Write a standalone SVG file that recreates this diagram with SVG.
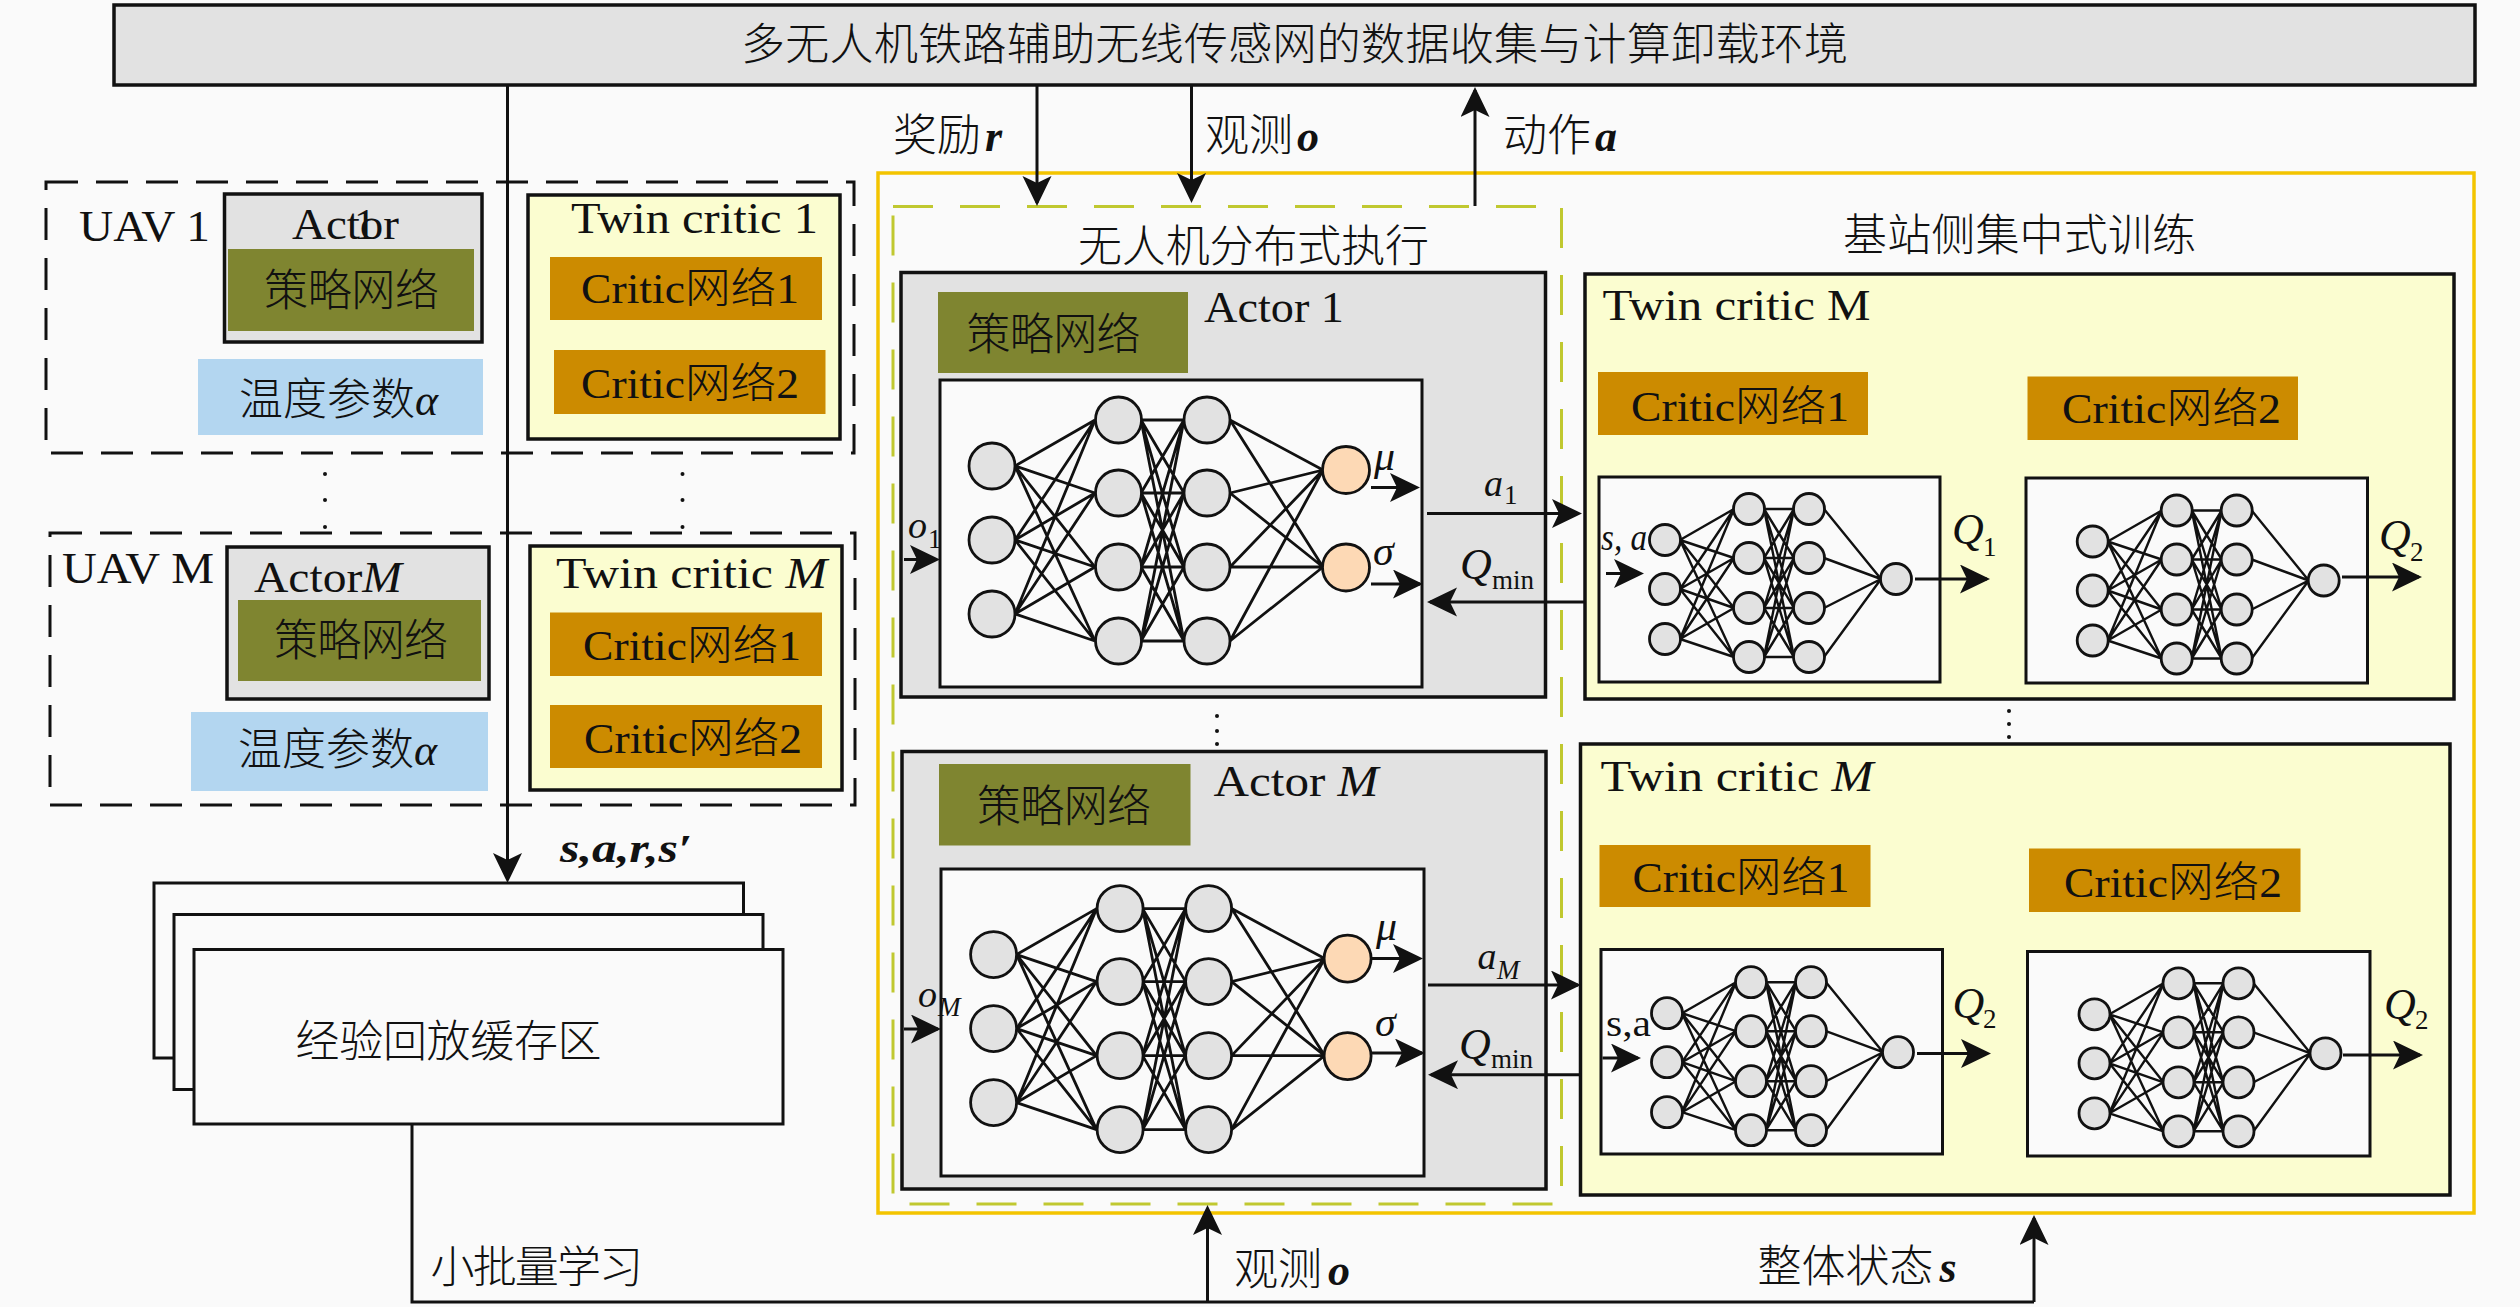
<svg xmlns="http://www.w3.org/2000/svg" xmlns:xlink="http://www.w3.org/1999/xlink" width="2520" height="1307" viewBox="0 0 2520 1307">
<style>
text{font-family:"Liberation Serif","Noto Sans CJK SC",serif;font-size:44px;fill:#111}
.cjk{font-family:"Noto Sans CJK SC","Liberation Serif",sans-serif;font-weight:300}
.c42{font-size:42px}
.i{font-style:italic}
.bi{font-style:italic;font-weight:bold;font-family:"Liberation Serif",serif}
.sub{font-size:27px}
.gray{fill:#e2e2e2;stroke:#111;stroke-width:3.5}
.cream{fill:#fbfdd0;stroke:#111;stroke-width:3.5}
.green{fill:#7f8530}
.orange{fill:#cc8b00}
.blue{fill:#b3d6f0}
.white{fill:#fafafa;stroke:#111;stroke-width:3}
.dash{fill:none;stroke:#111;stroke-width:3;stroke-dasharray:32 18}
.edge{fill:none;stroke:#111;stroke-width:2.8}
.edge2{fill:none;stroke:#111;stroke-width:2.4}
.n{fill:#e2e2e2;stroke:#111;stroke-width:2.8}
.o{fill:#fdd9b5;stroke:#111;stroke-width:2.8}
.arrow{fill:none;stroke:#111;stroke-width:3;marker-end:url(#ah)}
.line{fill:none;stroke:#111;stroke-width:3}
.dot{fill:#111}
</style>
<defs>
<marker id="ah" markerUnits="userSpaceOnUse" markerWidth="32" markerHeight="30" refX="27" refY="14.5" orient="auto">
<path d="M30,14.5 L0,0 L7,14.5 L0,29 Z" fill="#111"/>
</marker>
<g id="bignet">
<path class="edge" d="M1015 466L1095 420M1015 466L1095 493M1015 466L1095 567M1015 466L1095 641M1015 540L1095 420M1015 540L1095 493M1015 540L1095 567M1015 540L1095 641M1015 614L1095 420M1015 614L1095 493M1015 614L1095 567M1015 614L1095 641"/>
<path class="edge" d="M1141 420L1184 420M1141 420L1184 493M1141 420L1184 567M1141 420L1184 641M1141 493L1184 420M1141 493L1184 493M1141 493L1184 567M1141 493L1184 641M1141 567L1184 420M1141 567L1184 493M1141 567L1184 567M1141 567L1184 641M1141 641L1184 420M1141 641L1184 493M1141 641L1184 567M1141 641L1184 641"/>
<path class="edge" d="M1230 420L1323 470M1230 420L1323 567M1230 493L1323 470M1230 493L1323 567M1230 567L1323 470M1230 567L1323 567M1230 641L1323 470M1230 641L1323 567"/>
<circle class="n" cx="992" cy="466" r="23"/><circle class="n" cx="992" cy="540" r="23"/><circle class="n" cx="992" cy="614" r="23"/>
<circle class="n" cx="1118.5" cy="420" r="23"/><circle class="n" cx="1118.5" cy="493" r="23"/><circle class="n" cx="1118.5" cy="567" r="23"/><circle class="n" cx="1118.5" cy="641" r="23"/>
<circle class="n" cx="1207" cy="420" r="23"/><circle class="n" cx="1207" cy="493" r="23"/><circle class="n" cx="1207" cy="567" r="23"/><circle class="n" cx="1207" cy="641" r="23"/>
<circle class="o" cx="1346" cy="470" r="23.5"/><circle class="o" cx="1346" cy="567.5" r="23.5"/>
</g>
<g id="smallnet">
<path class="edge2" d="M1680 540L1734 509M1680 540L1734 558M1680 540L1734 608M1680 540L1734 657M1680 589L1734 509M1680 589L1734 558M1680 589L1734 608M1680 589L1734 657M1680 639L1734 509M1680 639L1734 558M1680 639L1734 608M1680 639L1734 657"/>
<path class="edge2" d="M1764 509L1794 509M1764 509L1794 558M1764 509L1794 608M1764 509L1794 657M1764 558L1794 509M1764 558L1794 558M1764 558L1794 608M1764 558L1794 657M1764 608L1794 509M1764 608L1794 558M1764 608L1794 608M1764 608L1794 657M1764 657L1794 509M1764 657L1794 558M1764 657L1794 608M1764 657L1794 657"/>
<path class="edge2" d="M1824 509L1881 579M1824 558L1881 579M1824 608L1881 579M1824 657L1881 579"/>
<circle class="n" cx="1665" cy="540" r="15.5"/><circle class="n" cx="1665" cy="589" r="15.5"/><circle class="n" cx="1665" cy="639" r="15.5"/>
<circle class="n" cx="1749" cy="509" r="15.5"/><circle class="n" cx="1749" cy="558" r="15.5"/><circle class="n" cx="1749" cy="608" r="15.5"/><circle class="n" cx="1749" cy="657" r="15.5"/>
<circle class="n" cx="1809" cy="509" r="15.5"/><circle class="n" cx="1809" cy="558" r="15.5"/><circle class="n" cx="1809" cy="608" r="15.5"/><circle class="n" cx="1809" cy="657" r="15.5"/>
<circle class="n" cx="1896" cy="579" r="15.5"/>
</g>
</defs>
<rect width="2520" height="1307" fill="#fafafa"/>

<g id="environment">
<rect class="gray" x="114" y="5" width="2361" height="80"/>
<text class="cjk" x="741" y="60" textLength="1107">多无人机铁路辅助无线传感网的数据收集与计算卸载环境</text>
</g>

<g id="uav1-frame">
<rect class="dash" x="46" y="182" width="808" height="271"/>
<text x="79" y="241" textLength="131" lengthAdjust="spacingAndGlyphs">UAV 1</text>
</g>
<g id="uavM-frame">
<rect class="dash" x="50" y="533" width="805" height="272"/>
<text x="62" y="583" textLength="152" lengthAdjust="spacingAndGlyphs">UAV M</text>
</g>

<g id="uav1-actor">
<rect class="gray" x="224.5" y="194" width="257.5" height="148"/>
<rect class="green" x="228" y="249" width="246" height="82"/>
<text x="292" y="239" textLength="107" lengthAdjust="spacingAndGlyphs">Actor</text>
<text x="354" y="239">1</text>
<text class="cjk" x="264" y="306" textLength="175">策略网络</text>
</g>
<g id="uav1-temp">
<rect class="blue" x="198" y="359" width="285" height="76"/>
<text x="239" y="415"><tspan class="cjk">温度参数</tspan><tspan class="i">α</tspan></text>
</g>
<g id="uav1-twin">
<rect class="cream" x="528" y="195" width="312" height="244"/>
<text x="571" y="233" textLength="247" lengthAdjust="spacingAndGlyphs">Twin critic 1</text>
<rect class="orange" x="550" y="257" width="272" height="63"/>
<text class="c42" x="581" y="303" textLength="218" lengthAdjust="spacingAndGlyphs">Critic<tspan class="cjk">网络</tspan>1</text>
<rect class="orange" x="554" y="350" width="271.5" height="64"/>
<text class="c42" x="581" y="398" textLength="218" lengthAdjust="spacingAndGlyphs">Critic<tspan class="cjk">网络</tspan>2</text>
</g>

<g id="uav-dots">
<circle class="dot" cx="325" cy="474" r="2"/><circle class="dot" cx="325" cy="500" r="2"/><circle class="dot" cx="325" cy="527" r="2"/>
<circle class="dot" cx="682.5" cy="474" r="2"/><circle class="dot" cx="682.5" cy="500" r="2"/><circle class="dot" cx="682.5" cy="527" r="2"/>
</g>

<g id="uavM-actor">
<rect class="gray" x="227" y="547" width="262" height="152"/>
<rect class="green" x="238" y="600" width="243" height="81"/>
<text x="254" y="592" textLength="148" lengthAdjust="spacingAndGlyphs">Actor<tspan class="i">M</tspan></text>
<text class="cjk" x="274" y="656" textLength="174">策略网络</text>
</g>
<g id="uavM-temp">
<rect class="blue" x="191" y="712" width="297" height="79"/>
<text x="238" y="765"><tspan class="cjk">温度参数</tspan><tspan class="i">α</tspan></text>
</g>
<g id="uavM-twin">
<rect class="cream" x="530" y="546" width="312" height="244"/>
<text x="556" y="588" textLength="271" lengthAdjust="spacingAndGlyphs">Twin critic <tspan class="i">M</tspan></text>
<rect class="orange" x="550" y="612.5" width="272" height="63.5"/>
<text class="c42" x="583" y="660" textLength="218" lengthAdjust="spacingAndGlyphs">Critic<tspan class="cjk">网络</tspan>1</text>
<rect class="orange" x="550" y="705" width="272" height="63"/>
<text class="c42" x="584" y="753" textLength="218" lengthAdjust="spacingAndGlyphs">Critic<tspan class="cjk">网络</tspan>2</text>
</g>

<g id="replay-buffer">
<rect class="white" x="154" y="883" width="589.5" height="175"/>
<rect class="white" x="174" y="914.5" width="589" height="175"/>
<rect class="white" x="194" y="949.5" width="589" height="174.5"/>
<text class="cjk" x="295.6" y="1057" textLength="306">经验回放缓存区</text>
</g>

<g id="training-frame">
<rect x="878" y="173" width="1596" height="1040" fill="none" stroke="#f3c400" stroke-width="3.5"/>
<rect x="893" y="206.5" width="668.5" height="997.5" fill="none" stroke="#c0c830" stroke-width="3" stroke-dasharray="40 27"/>
<text class="cjk" x="1078" y="262" textLength="351">无人机分布式执行</text>
<text class="cjk" x="1843" y="251" textLength="353">基站侧集中式训练</text>
</g>

<g id="actor-1">
<rect class="gray" x="901" y="272.5" width="644.5" height="424.5"/>
<rect class="green" x="938" y="292" width="250" height="81"/>
<text class="cjk" x="966.5" y="350" textLength="174">策略网络</text>
<text x="1204" y="322" textLength="140" lengthAdjust="spacingAndGlyphs">Actor 1</text>
<rect class="white" x="940" y="380" width="482" height="307"/>
<use href="#bignet"/>
<text class="i" x="1374" y="470" style="font-size:42px">μ</text>
<text class="i" x="1373" y="565" style="font-size:42px">σ</text>
</g>
<g id="actor-M">
<rect class="gray" x="902" y="751.5" width="644" height="437.5"/>
<rect class="green" x="939" y="764" width="251.5" height="81.5"/>
<text class="cjk" x="977" y="822" textLength="174">策略网络</text>
<text x="1213.5" y="796" textLength="165" lengthAdjust="spacingAndGlyphs">Actor <tspan class="i">M</tspan></text>
<rect class="white" x="941" y="869" width="483" height="307"/>
<use href="#bignet" transform="translate(1.6 488.6)"/>
<text class="i" x="1376" y="940" style="font-size:42px">μ</text>
<text class="i" x="1375" y="1036" style="font-size:42px">σ</text>
</g>

<g id="critic-1">
<rect class="cream" x="1585" y="274" width="869" height="425"/>
<text x="1602.5" y="320" textLength="268" lengthAdjust="spacingAndGlyphs">Twin critic M</text>
<rect class="orange" x="1598" y="372" width="270" height="63"/>
<text class="c42" x="1631" y="421" textLength="218" lengthAdjust="spacingAndGlyphs">Critic<tspan class="cjk">网络</tspan>1</text>
<rect class="orange" x="2027.5" y="376.5" width="270.5" height="63.5"/>
<text class="c42" x="2062" y="422.5" textLength="219" lengthAdjust="spacingAndGlyphs">Critic<tspan class="cjk">网络</tspan>2</text>
<rect class="white" x="1599" y="477" width="341" height="205"/>
<use href="#smallnet"/>
<rect class="white" x="2026" y="478" width="341.5" height="205"/>
<use href="#smallnet" transform="translate(427.7 1.5)"/>
<text class="i" x="1601" y="550" style="font-size:38px" textLength="46" lengthAdjust="spacingAndGlyphs">s, a</text>
<text class="i" x="1952" y="544" style="font-size:44px">Q</text><text class="sub" x="1983" y="556">1</text>
<text class="i" x="2379" y="550" style="font-size:44px">Q</text><text class="sub" x="2410" y="561">2</text>
</g>
<g id="critic-M">
<rect class="cream" x="1580.5" y="744" width="869.5" height="451"/>
<text x="1600.5" y="791" textLength="273" lengthAdjust="spacingAndGlyphs">Twin critic <tspan class="i">M</tspan></text>
<rect class="orange" x="1599.5" y="845" width="271" height="62"/>
<text class="c42" x="1632.5" y="892" textLength="217" lengthAdjust="spacingAndGlyphs">Critic<tspan class="cjk">网络</tspan>1</text>
<rect class="orange" x="2029" y="848.5" width="271.5" height="63.5"/>
<text class="c42" x="2064" y="897" textLength="218" lengthAdjust="spacingAndGlyphs">Critic<tspan class="cjk">网络</tspan>2</text>
<rect class="white" x="1601" y="949.5" width="341.5" height="204.5"/>
<use href="#smallnet" transform="translate(2 473.2)"/>
<rect class="white" x="2027.5" y="951.5" width="342.5" height="204.5"/>
<use href="#smallnet" transform="translate(429.5 474.3)"/>
<text x="1606" y="1036" style="font-size:38px" textLength="45" lengthAdjust="spacingAndGlyphs">s,a</text>
<text class="i" x="1952.5" y="1018" style="font-size:44px">Q</text><text class="sub" x="1983" y="1028">2</text>
<text class="i" x="2384" y="1019" style="font-size:44px">Q</text><text class="sub" x="2415" y="1029">2</text>
</g>

<g id="center-dots">
<circle class="dot" cx="1217" cy="716" r="2"/><circle class="dot" cx="1217" cy="731" r="2"/><circle class="dot" cx="1217" cy="744" r="2"/>
<circle class="dot" cx="2009" cy="711" r="2"/><circle class="dot" cx="2009" cy="724" r="2"/><circle class="dot" cx="2009" cy="737" r="2"/>
</g>

<g id="connectors">
<path class="arrow" d="M507.5 85V880"/>
<path class="arrow" d="M1037 85V203"/>
<path class="arrow" d="M1191.5 85V200"/>
<path class="arrow" d="M1475 206V90"/>
<path class="line" d="M412 1124V1302H2034"/>
<path class="arrow" d="M1207.5 1302V1208"/>
<path class="arrow" d="M2034 1302V1218"/>
<path class="arrow" d="M1371 487.5H1417"/>
<path class="arrow" d="M1371 584H1420"/>
<path class="arrow" d="M904 559.5H937"/>
<path class="arrow" d="M1427 513.5H1579"/>
<path class="arrow" d="M1585 602H1430"/>
<path class="arrow" d="M1372 958.6H1420"/>
<path class="arrow" d="M1372 1053H1422"/>
<path class="arrow" d="M904 1029H938"/>
<path class="arrow" d="M1428 985H1578"/>
<path class="arrow" d="M1581 1074.7H1431"/>
<path class="arrow" d="M1915 579H1987"/>
<path class="arrow" d="M2342 577H2419"/>
<path class="arrow" d="M1606 573.5H1641"/>
<path class="arrow" d="M1917 1053.5H1988"/>
<path class="arrow" d="M2343 1055H2420"/>
<path class="arrow" d="M1602.5 1058H1638"/>
</g>

<g id="connector-labels">
<text x="893" y="151"><tspan class="cjk">奖励</tspan><tspan class="bi" dx="4">r</tspan></text>
<text x="1205" y="151"><tspan class="cjk">观测</tspan><tspan class="bi" dx="4">o</tspan></text>
<text x="1503" y="151"><tspan class="cjk">动作</tspan><tspan class="bi" dx="4">a</tspan></text>
<text class="bi" x="560" y="862" textLength="132" lengthAdjust="spacingAndGlyphs" style="font-size:40px">s,a,r,s′</text>
<text class="cjk" x="430.5" y="1283" textLength="212.5">小批量学习</text>
<text x="1234" y="1285"><tspan class="cjk">观测</tspan><tspan class="bi" dx="6">o</tspan></text>
<text x="1757.5" y="1282"><tspan class="cjk">整体状态</tspan><tspan class="bi" dx="6">s</tspan></text>
<text class="i" x="908" y="538" style="font-size:38px">o</text><text class="sub" x="928" y="548">1</text>
<text class="i" x="918" y="1007" style="font-size:38px">o</text><text class="sub i" x="938" y="1016">M</text>
<text class="i" x="1484" y="496" style="font-size:38px">a</text><text class="sub" x="1504" y="504">1</text>
<text class="i" x="1477.5" y="969" style="font-size:38px">a</text><text class="sub i" x="1497" y="979">M</text>
<text class="i" x="1460" y="579" style="font-size:44px">Q</text><text class="sub" x="1492" y="589" textLength="42" lengthAdjust="spacingAndGlyphs">min</text>
<text class="i" x="1459" y="1059" style="font-size:44px">Q</text><text class="sub" x="1491" y="1068" textLength="42" lengthAdjust="spacingAndGlyphs">min</text>
</g>
</svg>
